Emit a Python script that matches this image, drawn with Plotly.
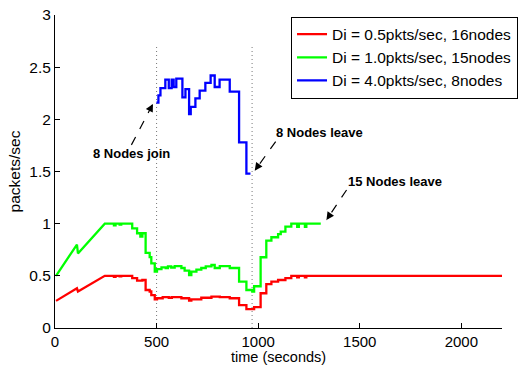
import plotly.graph_objects as go

# ---------------- data ----------------
# green: Di = 1.0 pkts/sec, 15 nodes
green_ramp_t = [5, 108, 113, 245]
green_ramp_v = [0.50, 0.80, 0.715, 1.00]
green_step_t = [290, 298, 318, 326, 380, 404, 420, 430, 446, 466, 474, 491, 502, 524, 545, 556,
                572, 589, 622, 638, 660, 671, 696, 720, 742, 770, 786, 811, 860, 906, 942, 971,
                980, 1012, 1040, 1065, 1098, 1111, 1134, 1163, 1192, 1200, 1230, 1237]
green_step_v = [0.985, 1.0, 0.99, 1.0, 0.955, 0.908, 0.875, 0.908, 0.72, 0.68, 0.62, 0.54, 0.565, 0.582, 0.575, 0.59,
                0.58, 0.594, 0.575, 0.55, 0.508, 0.54, 0.56, 0.575, 0.59, 0.604, 0.575, 0.594, 0.575, 0.444, 0.364, 0.35,
                0.40, 0.678, 0.837, 0.87, 0.90, 0.923, 0.971, 1.0, 0.97, 1.0, 0.97, 1.0]
green_end = 1308

# red: Di = 0.5 pkts/sec, 16 nodes
red_ramp_t = [5, 108, 113, 245]
red_ramp_v = [0.26, 0.38, 0.35, 0.50]
red_step_t = [290, 298, 318, 326, 380, 404, 430, 446, 466, 474, 491, 502, 530, 560, 575, 622,
              660, 671, 720, 770, 811, 860, 906, 942, 980, 1012, 1040, 1065, 1098, 1134, 1163,
              1192, 1200, 1230, 1237]
red_step_v = [0.49, 0.5, 0.495, 0.5, 0.478, 0.455, 0.46, 0.364, 0.35, 0.316, 0.275, 0.285, 0.295, 0.29, 0.295, 0.285,
              0.262, 0.275, 0.29, 0.30, 0.295, 0.285, 0.22, 0.18, 0.20, 0.333, 0.42, 0.445, 0.46, 0.478, 0.5,
              0.485, 0.5, 0.485, 0.5]
red_end = 2200

# blue: Di = 4.0 pkts/sec, 8 nodes (step data)
blue_t = [499, 509, 519, 543, 560, 574, 584, 597, 627, 642, 660, 668, 691, 712, 740, 766, 786, 810, 860, 906, 942, 962]
blue_v = [2.16, 2.23, 2.30, 2.38, 2.30, 2.38, 2.31, 2.39, 2.21, 2.29, 2.05, 2.12, 2.20, 2.275, 2.35, 2.42, 2.31, 2.38, 2.265, 1.78, 1.48, 1.48]

series_names = ["Di = 0.5pkts/sec, 16nodes", "Di = 1.0pkts/sec, 15nodes", "Di = 4.0pkts/sec, 8nodes"]
series_colors = ["#ff0000", "#00ff00", "#0000ff"]

event_times = [500, 970]
event_top = 2.7

# annotations: text, text position, arrow tail, arrow head
ann_text = ["8 Nodes join", "8 Nodes leave", "15 Nodes leave"]
ann_pos = [(377, 1.668), (1303, 1.87), (1672, 1.40)]
ann_tail = [(376, 1.755), (1086, 1.786), (1435, 1.323)]
ann_head = [(482, 2.148), (983, 1.508), (1336, 1.035)]

x_ticks = [0, 500, 1000, 1500, 2000]
y_ticks = [0, 0.5, 1, 1.5, 2, 2.5, 3]
x_title = "time (seconds)"
y_title = "packets/sec"


def build_path(ramp_t, ramp_v, step_t, step_v, end):
    xs, ys = list(ramp_t), list(ramp_v)
    for t, v in zip(step_t, step_v):
        xs += [t, t]
        ys += [ys[-1], v]
    xs.append(end)
    ys.append(ys[-1])
    return xs, ys


rx, ry = build_path(red_ramp_t, red_ramp_v, red_step_t, red_step_v, red_end)
gx, gy = build_path(green_ramp_t, green_ramp_v, green_step_t, green_step_v, green_end)

FONT = "Liberation Sans, Arial, Helvetica, sans-serif"

fig = go.Figure()
fig.add_trace(go.Scatter(x=rx, y=ry, mode="lines", name=series_names[0],
                         line=dict(color=series_colors[0], width=2.3)))
fig.add_trace(go.Scatter(x=gx, y=gy, mode="lines", name=series_names[1],
                         line=dict(color=series_colors[1], width=2.3)))
fig.add_trace(go.Scatter(x=blue_t, y=blue_v, mode="lines", name=series_names[2],
                         line=dict(color=series_colors[2], width=2.3, shape="hv")))

for t in event_times:
    fig.add_shape(type="line", xref="x", yref="y", x0=t, x1=t, y0=0, y1=event_top,
                  line=dict(color="#777777", width=1, dash="1px,3px"), layer="below")

for txt, pos, tail, head in zip(ann_text, ann_pos, ann_tail, ann_head):
    fig.add_shape(type="line", xref="x", yref="y", x0=tail[0], y0=tail[1], x1=head[0], y1=head[1],
                  line=dict(color="black", width=1.2, dash="dash"))
    nx = head[0] + 0.18 * (tail[0] - head[0])
    ny = head[1] + 0.18 * (tail[1] - head[1])
    fig.add_annotation(x=head[0], y=head[1], ax=nx, ay=ny, axref="x", ayref="y", xref="x", yref="y",
                       text="", showarrow=True, arrowhead=2, arrowsize=1.3, arrowwidth=1.2,
                       arrowcolor="black")
    fig.add_annotation(x=pos[0], y=pos[1], xref="x", yref="y", text="<b>%s</b>" % txt,
                       showarrow=False, font=dict(family=FONT, size=13, color="black"))

# x-axis title placed below the tick labels
fig.add_annotation(x=0.5, y=-0.094, xref="paper", yref="paper", xanchor="center", yanchor="middle",
                   text=x_title, showarrow=False, font=dict(family=FONT, size=14.5, color="black"))

fig.update_layout(
    width=519, height=365,
    margin=dict(l=55, r=17, t=15, b=37, autoexpand=False),
    plot_bgcolor="white", paper_bgcolor="white",
    font=dict(family=FONT, size=15, color="black"),
    showlegend=True,
    legend=dict(x=0.528, y=0.995, xanchor="left", yanchor="top",
                bgcolor="white", bordercolor="black", borderwidth=1,
                font=dict(family=FONT, size=15.5, color="black"),
                tracegroupgap=0, itemwidth=30),
)
fig.update_xaxes(range=[0, 2200], tickvals=x_ticks, ticks="inside", ticklen=5, tickcolor="black",
                 showline=True, linecolor="black", linewidth=1, showgrid=False, zeroline=False,
                 tickfont=dict(size=15))
fig.update_yaxes(range=[0, 3], tickvals=y_ticks, ticktext=["0", "0.5", "1", "1.5", "2", "2.5", "3"],
                 ticks="inside", ticklen=5, tickcolor="black",
                 showline=True, linecolor="black", linewidth=1, showgrid=False, zeroline=False,
                 title=dict(text=y_title, font=dict(size=15.5), standoff=4), tickfont=dict(size=15.5))

fig.write_html("out.html")
